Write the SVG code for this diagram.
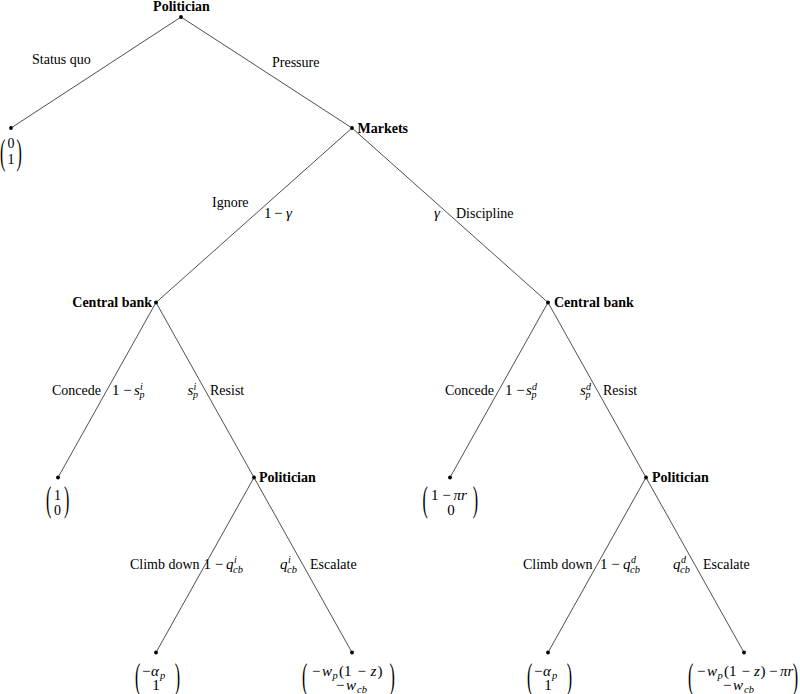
<svg xmlns="http://www.w3.org/2000/svg" width="800" height="694" viewBox="0 0 800 694">
<style>
text { font-family: "Liberation Serif", "Times New Roman", serif; font-size: 14px; fill: #000; }
.b { font-weight: bold; }
.i { font-style: italic; }
.s { font-size: 10px; font-style: italic; }
.m { font-size: 15px; }
.ms { font-size: 10.5px; font-style: italic; }
.mid { text-anchor: middle; }
.end { text-anchor: end; }
.par { font-size: 16px; }
#connectors line { stroke: #222; stroke-width: 0.8; }
.dot { fill: #000; }
</style>
<rect width="800" height="694" fill="#fff"/>

<g id="connectors">
  <line x1="181" y1="17" x2="11" y2="128"/>
  <line x1="181" y1="17" x2="352" y2="128"/>
  <line x1="352" y1="128" x2="156" y2="302.5"/>
  <line x1="352" y1="128" x2="548" y2="302.5"/>
  <line x1="156" y1="302.5" x2="58" y2="477.5"/>
  <line x1="156" y1="302.5" x2="254" y2="477.5"/>
  <line x1="548" y1="302.5" x2="450" y2="477.5"/>
  <line x1="548" y1="302.5" x2="646" y2="477.5"/>
  <line x1="254" y1="477.5" x2="156" y2="652.5"/>
  <line x1="254" y1="477.5" x2="352" y2="652.5"/>
  <line x1="646" y1="477.5" x2="548" y2="652.5"/>
  <line x1="646" y1="477.5" x2="744" y2="652.5"/>
</g>

<g id="edge-labels">
  <text x="32" y="64">Status quo</text>
  <text x="272" y="67">Pressure</text>

  <text x="212" y="207">Ignore</text>
  <text class="m" x="264" y="218">1</text><text class="m" x="274" y="218">−</text><text class="m i" x="286" y="218">γ</text>
  <text class="m i" x="434" y="218">γ</text>
  <text x="456" y="218">Discipline</text>

  <text x="52" y="395">Concede</text>
  <text class="m" x="112" y="395">1 −</text><text class="m i" x="134" y="395">s</text>
  <text class="s" x="140" y="389.5">i</text><text class="s" x="139.5" y="398">p</text>
  <text class="m i" x="187.5" y="395">s</text>
  <text class="s" x="193.5" y="389.5">i</text><text class="s" x="193" y="398">p</text>
  <text x="210" y="395">Resist</text>

  <text x="445" y="395">Concede</text>
  <text class="m" x="505" y="395">1 −</text><text class="m i" x="526" y="395">s</text>
  <text class="s" x="532" y="389.5">d</text><text class="s" x="531.5" y="398">p</text>
  <text class="m i" x="580" y="395">s</text>
  <text class="s" x="586" y="389.5">d</text><text class="s" x="585.5" y="398">p</text>
  <text x="603" y="395">Resist</text>

  <text x="130" y="569">Climb down</text>
  <text class="m" x="203.5" y="569">1 −</text><text class="m i" x="226" y="569">q</text>
  <text class="s" x="234" y="563">i</text><text class="ms" x="233" y="572.5">cb</text>
  <text class="m i" x="280" y="569">q</text>
  <text class="s" x="288" y="563">i</text><text class="ms" x="287" y="572.5">cb</text>
  <text x="310" y="569">Escalate</text>

  <text x="523" y="569">Climb down</text>
  <text class="m" x="600" y="569">1 −</text><text class="m i" x="623" y="569">q</text>
  <text class="s" x="631" y="563">d</text><text class="ms" x="630" y="572.5">cb</text>
  <text class="m i" x="673" y="569">q</text>
  <text class="s" x="681" y="563">d</text><text class="ms" x="680" y="572.5">cb</text>
  <text x="703" y="569">Escalate</text>
</g>

<g id="n-root">
  <circle class="dot" cx="181" cy="17" r="1.9"/>
  <text class="b mid" x="181.5" y="11">Politician</text>
</g>

<g id="n-status-quo">
  <circle class="dot" cx="11" cy="128" r="1.9"/>
  <text class="par" transform="translate(0,164.3) scale(1,2.2)">(</text>
  <text class="par" transform="translate(16.5,164.3) scale(1,2.2)">)</text>
  <text class="mid" x="11" y="147.5">0</text>
  <text class="mid" x="11" y="163.5">1</text>
</g>

<g id="n-markets">
  <circle class="dot" cx="352" cy="128" r="1.9"/>
  <text class="b" x="357.5" y="133">Markets</text>
</g>

<g id="n-cb-ignore">
  <circle class="dot" cx="156" cy="302.5" r="1.9"/>
  <text class="b end" x="152" y="307">Central bank</text>
</g>

<g id="n-cb-discipline">
  <circle class="dot" cx="548" cy="302.5" r="1.9"/>
  <text class="b" x="554" y="307">Central bank</text>
</g>

<g id="n-concede-ignore">
  <circle class="dot" cx="58" cy="477.5" r="1.9"/>
  <text class="par" transform="translate(46,511.3) scale(1,2.2)">(</text>
  <text class="par" transform="translate(64,511.3) scale(1,2.2)">)</text>
  <text class="mid" x="57.5" y="500">1</text>
  <text class="mid" x="57.5" y="515">0</text>
</g>

<g id="n-pol-ignore">
  <circle class="dot" cx="254" cy="477.5" r="1.9"/>
  <text class="b" x="259" y="482">Politician</text>
</g>

<g id="n-concede-discipline">
  <circle class="dot" cx="450" cy="477.5" r="1.9"/>
  <text class="par" transform="translate(422.5,511.3) scale(1,2.2)">(</text>
  <text class="par" transform="translate(472.7,511.3) scale(1,2.2)">)</text>
  <text class="m" x="431" y="500">1 −</text><text class="m i" x="453.5" y="500">πr</text>
  <text class="m mid" x="451" y="515">0</text>
</g>

<g id="n-pol-discipline">
  <circle class="dot" cx="646" cy="477.5" r="1.9"/>
  <text class="b" x="652" y="482">Politician</text>
</g>

<g id="n-climb-ignore">
  <circle class="dot" cx="156" cy="652.5" r="1.9"/>
  <text class="par" transform="translate(135,687.6) scale(1,2.2)">(</text>
  <text class="par" transform="translate(174.7,687.6) scale(1,2.2)">)</text>
  <text class="m" x="142" y="675.5">−</text><text class="m i" x="151" y="675.5">α</text><text class="ms" x="160" y="678.5">p</text>
  <text class="m mid" x="156" y="690">1</text>
</g>

<g id="n-escalate-ignore">
  <circle class="dot" cx="352" cy="652.5" r="1.9"/>
  <text class="par" transform="translate(302,687.6) scale(1,2.2)">(</text>
  <text class="par" transform="translate(389.5,687.6) scale(1,2.2)">)</text>
  <text class="m" x="312" y="675.5">−</text>
  <text class="m i" x="322" y="675.5">w</text>
  <text class="ms" x="332.5" y="678.5">p</text>
  <text class="m" x="339" y="675.5">(1</text>
  <text class="m" x="357.5" y="675.5">−</text>
  <text class="m i" x="370.5" y="675.5">z</text>
  <text class="m" x="377.5" y="675.5">)</text>
  <text class="m" x="336" y="690">−</text>
  <text class="m i" x="346" y="690">w</text>
  <text class="ms" x="357" y="693">cb</text>
</g>

<g id="n-climb-discipline">
  <circle class="dot" cx="548" cy="652.5" r="1.9"/>
  <text class="par" transform="translate(527,687.6) scale(1,2.2)">(</text>
  <text class="par" transform="translate(566.7,687.6) scale(1,2.2)">)</text>
  <text class="m" x="534" y="675.5">−</text><text class="m i" x="543" y="675.5">α</text><text class="ms" x="552" y="678.5">p</text>
  <text class="m mid" x="548" y="690">1</text>
</g>

<g id="n-escalate-discipline">
  <circle class="dot" cx="744" cy="652.5" r="1.9"/>
  <text class="par" transform="translate(688,687.6) scale(1,2.2)">(</text>
  <text class="par" transform="translate(792.7,687.6) scale(1,2.2)">)</text>
  <text class="m" x="697" y="675.5">−</text>
  <text class="m i" x="707" y="675.5">w</text>
  <text class="ms" x="717.5" y="678.5">p</text>
  <text class="m" x="724" y="675.5">(1</text>
  <text class="m" x="741.5" y="675.5">−</text>
  <text class="m i" x="754" y="675.5">z</text>
  <text class="m" x="760.5" y="675.5">)</text>
  <text class="m" x="769" y="675.5">−</text>
  <text class="m i" x="780" y="675.5">πr</text>
  <text class="m" x="723" y="690">−</text>
  <text class="m i" x="733" y="690">w</text>
  <text class="ms" x="744" y="693">cb</text>
</g>
</svg>
